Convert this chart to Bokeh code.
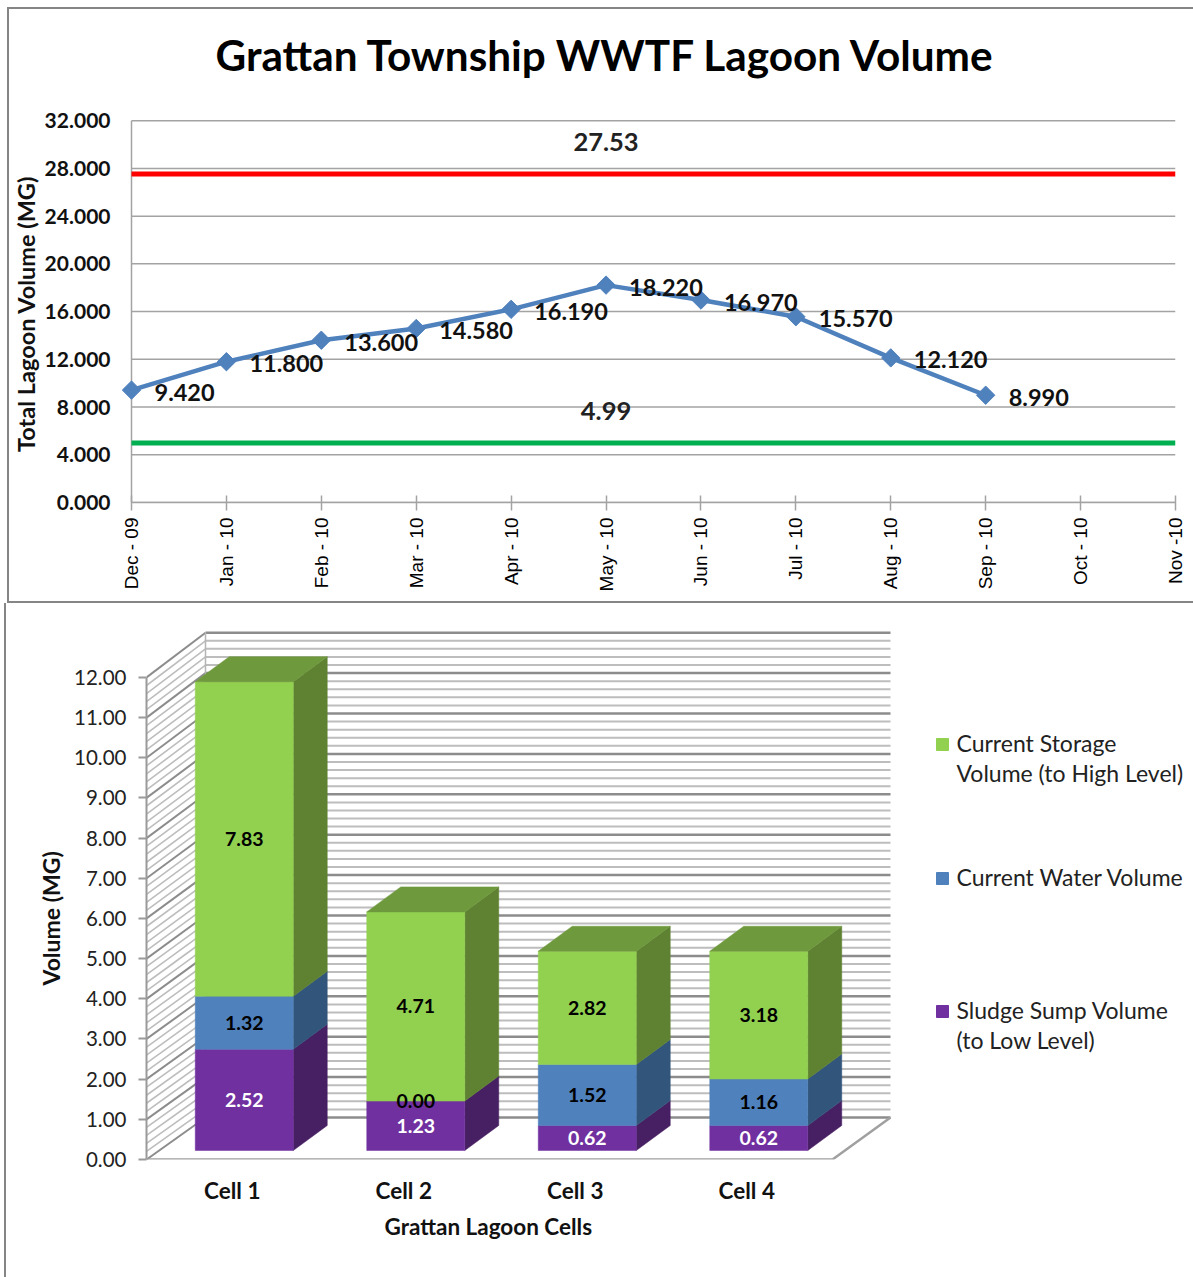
from math import pi
from bokeh.plotting import figure
from bokeh.layouts import column
from bokeh.models import FixedTicker, NumeralTickFormatter, Title, Range1d, InlineStyleSheet
from bokeh.core.properties import value
from bokeh.embed import file_html
from bokeh.resources import INLINE

# ---------- data: top chart
months = ["Dec - 09", "Jan - 10", "Feb - 10", "Mar - 10", "Apr - 10", "May - 10",
          "Jun - 10", "Jul - 10", "Aug - 10", "Sep - 10", "Oct - 10", "Nov -10"]
total_volume = [9.42, 11.80, 13.60, 14.58, 16.19, 18.22, 16.97, 15.57, 12.12, 8.99]
high_limit = 27.53
low_limit = 4.99
y_ticks_top = [0, 4, 8, 12, 16, 20, 24, 28, 32]

# ---------- data: bottom chart
cells = ["Cell 1", "Cell 2", "Cell 3", "Cell 4"]
sludge = [2.52, 1.23, 0.62, 0.62]
water = [1.32, 0.00, 1.52, 1.16]
storage = [7.83, 4.71, 2.82, 3.18]
y_ticks_bottom = list(range(13))
legend_lines = [["Current Storage", "Volume (to High Level)"], ["Current Water Volume"],
                ["Sludge Sump Volume", "(to Low Level)"]]

FONT = "Lato"
GRID = "#a3a3a3"
BORDER = "#858585"

def frame_css(left, top_, bottom):
    sides = f"border-left:2.5px solid {BORDER};"
    if top_ is not None:
        sides += f"border-top:2.5px solid {BORDER};"
    if bottom is not None:
        sides += f"border-bottom:2.5px solid {BORDER};"
    return InlineStyleSheet(css=":host{position:relative;} :host::after{content:'';position:absolute;"
                                f"left:{left}px;top:{top_ or 0}px;bottom:{bottom or 0}px;right:0;"
                                f"{sides}pointer-events:none;z-index:10;}}")

# ================= TOP =================
MONTH_PX = 94.9
pad_px = 11
top = figure(width=1193, height=603, output_backend="svg", toolbar_location=None,
             x_range=Range1d(-pad_px / MONTH_PX, 11), y_range=Range1d(0, 32.1), frame_align=False,
             min_border_left=131 - pad_px, min_border_right=18, min_border_top=119, min_border_bottom=101,
             outline_line_color=None, background_fill_color="white", border_fill_color="white",
             stylesheets=[frame_css(7, 7, 0.01)])
top.title = Title(text="Grattan Township WWTF Lagoon Volume", align="left", offset=84 + pad_px, standoff=52,
                  vertical_align="top",
                  text_font=FONT, text_font_size="42.3px", text_font_style="bold", text_color="#000000")
# blank spacer between the title and the frame, lifting the title to its place
top.add_layout(Title(text=" ", standoff=8, text_font_size="2px"), "above")
top.grid.visible = False

ax = top.xaxis[0]
ax.ticker = FixedTicker(ticks=list(range(len(months))))
ax.bounds = (0, 11)
ax.major_label_overrides = {i: m for i, m in enumerate(months)}
ax.major_label_orientation = pi / 2
ax.major_label_text_font = "Liberation Sans"
ax.major_label_text_font_size = "19px"
ax.major_label_text_color = "#000000"
ax.major_label_standoff = 7
ax.axis_line_color = GRID
ax.axis_line_width = 1.5
ax.major_tick_line_color = GRID
ax.major_tick_line_width = 1.5
ax.major_tick_in = 7
ax.major_tick_out = 8
ax.minor_tick_line_color = None

ay = top.yaxis[0]
ay.ticker = FixedTicker(ticks=y_ticks_top)
ay.formatter = NumeralTickFormatter(format="0.000")
ay.major_label_text_font = FONT
ay.major_label_text_font_style = "bold"
ay.major_label_text_font_size = "21px"
ay.major_label_text_color = "#111111"
ay.major_label_standoff = 21 - pad_px
ay.major_tick_line_color = None
ay.major_tick_in = 0
ay.major_tick_out = 0
ay.minor_tick_line_color = None
ay.axis_line_color = None
ay.axis_label = "Total  Lagoon Volume (MG)"
ay.axis_label_text_font = FONT
ay.axis_label_text_font_style = "bold"
ay.axis_label_text_font_size = "23.5px"
ay.axis_label_text_color = "#111111"
ay.axis_label_standoff = 2

# grid and value-axis line start at the first month, so the first marker is not cut
last = len(months) - 1
top.multi_line([[0, last] for _ in y_ticks_top], [[t, t] for t in y_ticks_top], line_color=GRID, line_width=1.5)
top.line([0, 0], [0, 32], line_color=GRID, line_width=1.5)

idx = list(range(len(months)))
top.line(idx, [high_limit] * len(idx), line_color="#FF0000", line_width=5)
top.line(idx, [low_limit] * len(idx), line_color="#00B050", line_width=5)
xs = list(range(len(total_volume)))
top.line(xs, total_volume, line_color="#4F81BD", line_width=4.5)
top.scatter(xs, total_volume, marker="square", size=13, angle=pi / 4, color="#4F81BD")
top.text(xs, total_volume, text=[f"{v:.3f}" for v in total_volume], x_offset=23, y_offset=2,
         text_align="left", text_baseline="middle", text_font=value(FONT), text_font_style="bold",
         text_font_size="23.5px", text_color="#111111")
top.text([5, 5], [high_limit, low_limit], text=[f"{high_limit:.2f}", f"{low_limit:.2f}"], y_offset=-32,
         text_align="center", text_baseline="middle", text_font=value(FONT), text_font_style="bold",
         text_font_size="25.5px", text_color="#222222")

# ================= BOTTOM =================
CAT = 171.5      # px per category on the front floor edge
UNIT = 40.17     # px per MG on the front axis
def bx(px): return (px - 146) / CAT
def by(py): return (1159 - py) / UNIT

bot = figure(width=1193, height=674, output_backend="svg", toolbar_location=None,
             x_range=Range1d(0, bx(1193)), y_range=Range1d(0, by(606)), frame_align=False,
             min_border_left=146, min_border_right=0, min_border_top=3, min_border_bottom=118,
             outline_line_color=None, background_fill_color="white", border_fill_color="white",
             stylesheets=[frame_css(4, None, None)])
bot.grid.visible = False

bax = bot.xaxis[0]
bax.ticker = FixedTicker(ticks=[i + 0.5 for i in range(len(cells))])
bax.major_label_overrides = {i + 0.5: c for i, c in enumerate(cells)}
bax.axis_line_color = None
bax.major_tick_line_color = None
bax.minor_tick_line_color = None
bax.major_label_standoff = 11
bax.major_label_text_font = FONT
bax.major_label_text_font_style = "bold"
bax.major_label_text_font_size = "22.5px"
bax.major_label_text_color = "#111111"

bay = bot.yaxis[0]
bay.ticker = FixedTicker(ticks=y_ticks_bottom)
bay.formatter = NumeralTickFormatter(format="0.00")
bay.bounds = (0, 12)
bay.axis_line_color = "#9a9a9a"
bay.axis_line_width = 2
bay.major_tick_line_color = "#9a9a9a"
bay.major_tick_line_width = 2
bay.major_tick_in = 0
bay.major_tick_out = 8
bay.minor_tick_line_color = None
bay.major_label_standoff = 12
bay.major_label_text_font = FONT
bay.major_label_text_font_size = "20.5px"
bay.major_label_text_color = "#222222"

# walls
wall_dx = 59 / CAT
wall_rise = 42 / UNIT
wall_scale = 40.4 / UNIT
wall_right = 4 + 58 / CAT
minor_vals = [v / 5 for v in range(0, 61) if v % 5 != 0]
major_vals = [float(v) for v in y_ticks_bottom]
def back(v): return wall_rise + v * wall_scale
for vals, col, w in ((minor_vals, "#bdbdbd", 2), (major_vals, "#8c8c8c", 2.5)):
    bot.multi_line([[wall_dx, wall_right] for _ in vals], [[back(v), back(v)] for v in vals], line_color=col, line_width=w)
    bot.multi_line([[0, wall_dx] for _ in vals], [[v, back(v)] for v in vals], line_color=col, line_width=w * 0.8)
bot.line([wall_dx, wall_dx], [back(0), back(12)], line_color="#b5b5b5", line_width=1.5)
# floor edges
bot.line([0, 4, wall_right], [0, 0, back(0)], line_color="#a0a0a0", line_width=2.5)

# stacked 3D bars
base = 9 / UNIT
bar_w = 98 / CAT
bar_shift = 12 / CAT
depth_x = 34 / CAT
depth_y = 25 / UNIT
series = [(sludge, "#7030A0", "#471F63", "#FFFFFF"),
          (water, "#4F81BD", "#31557B", "#000000"),
          (storage, "#92D050", "#5F8232", "#000000")]
top_color = "#6F993D"
for i in range(len(cells)):
    cx = i + 0.5 + bar_shift
    x0, x1 = cx - bar_w / 2, cx + bar_w / 2
    cum = base
    for vals, front_c, side_c, txt in series:
        b, t = cum, cum + vals[i]
        if vals[i] > 0:
            bot.patch([x1, x1 + depth_x, x1 + depth_x, x1], [b, b + depth_y, t + depth_y, t], color=side_c, line_width=0.5)
            bot.patch([x0, x1, x1, x0], [b, b, t, t], color=front_c, line_width=0.5)
        cum = t
    bot.patch([x0, x1, x1 + depth_x, x0 + depth_x], [cum, cum, cum + depth_y, cum + depth_y], color=top_color, line_width=0.5)
    cum = base
    for vals, front_c, side_c, txt in series:
        bot.text([cx], [cum + vals[i] / 2], text=[f"{vals[i]:.2f}"], text_align="center", text_baseline="middle",
                 text_font=value(FONT), text_font_style="bold", text_font_size="19.5px", text_color=txt)
        cum += vals[i]

# legend
legend_colors = ["#92D050", "#4F81BD", "#7030A0"]
legend_tops = [744, 878, 1011]
for lines, c, py in zip(legend_lines, legend_colors, legend_tops):
    bot.scatter([bx(942)], [by(py)], marker="square", size=12, color=c)
    for k, line in enumerate(lines):
        bot.text([bx(956)], [by(py + 30 * k)], text=[line], y_offset=-2, text_align="left", text_baseline="middle",
                 text_font=value(FONT), text_font_size="23px", text_color="#222222")

# axis titles as side titles, so they can sit off the frame centre
bot.add_layout(Title(text="Grattan Lagoon Cells", align="left", offset=238, standoff=8, text_font=FONT,
                     text_font_style="bold", text_font_size="22.5px", text_color="#111111"), "below")
bot.add_layout(Title(text="Volume (MG)", align="left", offset=174, standoff=14, text_font=FONT,
                     text_font_style="bold", text_font_size="23px", text_color="#111111"), "left")

page = column(top, bot, spacing=0)
open("out.html", "w").write(file_html(page, INLINE))
